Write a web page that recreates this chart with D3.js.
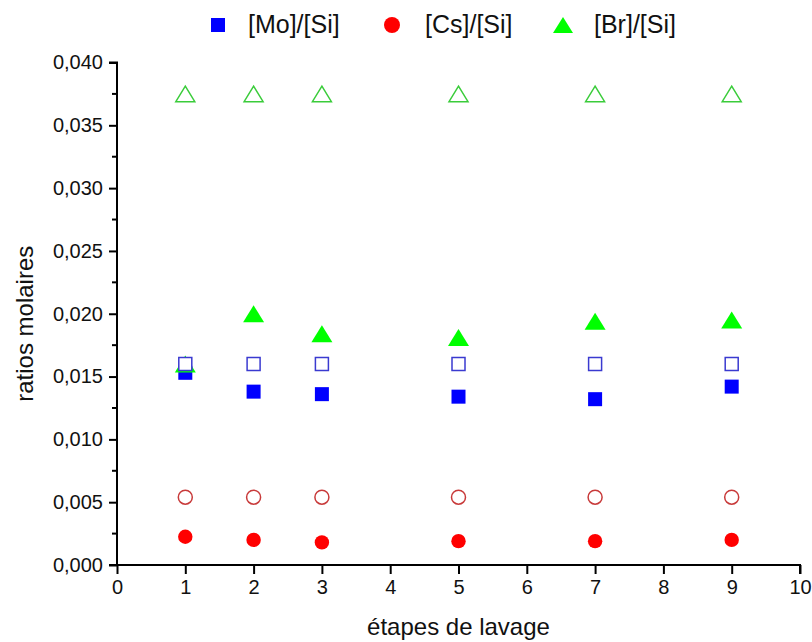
<!DOCTYPE html>
<html>
<head>
<meta charset="utf-8">
<script src="https://cdn.jsdelivr.net/npm/d3@7"></script>
<style>
  html, body { margin: 0; padding: 0; background: #fff; }
  svg { display: block; font-family: "Liberation Sans", Arial, sans-serif; }
</style>
</head>
<body>
<svg id="chart" width="812" height="642"></svg>
<script>
// ---- data ----
const steps = [1, 2, 3, 5, 7, 9];
const moSi = [0.0153, 0.0138, 0.0136, 0.0134, 0.0132, 0.0142];
const csSi = [0.00225, 0.0020, 0.0018, 0.0019, 0.0019, 0.0020];
const brSi = [0.0160, 0.0200, 0.0184, 0.0181, 0.0194, 0.0195];
const moSiInit = [0.0160, 0.0160, 0.0160, 0.0160, 0.0160, 0.0160];
const csSiInit = [0.0054, 0.0054, 0.0054, 0.0054, 0.0054, 0.0054];
const brSiInit = [0.0375, 0.0375, 0.0375, 0.0375, 0.0375, 0.0375];
const seriesNames = ["[Mo]/[Si]", "[Cs]/[Si]", "[Br]/[Si]"];
const xTicks = [0, 1, 2, 3, 4, 5, 6, 7, 8, 9, 10];
const yTicks = [0, 0.005, 0.010, 0.015, 0.020, 0.025, 0.030, 0.035, 0.040];
const yTickLabels = ["0,000", "0,005", "0,010", "0,015", "0,020", "0,025", "0,030", "0,035", "0,040"];
const yMinorTicks = [0.0025, 0.0075, 0.0125, 0.0175, 0.0225, 0.0275, 0.0325, 0.0375];
const xTitle = "étapes de lavage";
const yTitle = "ratios molaires";

// ---- layout ----
const svg = d3.select("#chart");
const x = d3.scaleLinear().domain([0, 10]).range([117, 800]);
const y = d3.scaleLinear().domain([0, 0.04]).range([565, 62.5]);

const blue = "#0000ff", red = "#ff0000", green = "#00ff00";
const blueOpen = "#3a3ad0", redOpen = "#c83a3a", greenOpen = "#3acc3a";

// axes
const yAxis = d3.axisLeft(y).tickValues(yTicks)
  .tickFormat((d, i) => yTickLabels[i]).tickSize(8).tickPadding(6);
const gy = svg.append("g").attr("transform", `translate(${x(0)},0)`).call(yAxis);
gy.selectAll("text").attr("font-size", 20).attr("fill", "#111");
gy.selectAll("line").attr("stroke", "#000").attr("stroke-width", 2);
gy.select(".domain").attr("stroke", "#000").attr("stroke-width", 2)
  .attr("d", `M0,${y(0)}V${y(0.04)}H-8`);
gy.selectAll(".minor").data(yMinorTicks).enter().append("line")
  .attr("x1", -5).attr("x2", 0)
  .attr("y1", d => y(d)).attr("y2", d => y(d))
  .attr("stroke", "#000").attr("stroke-width", 2);

const xAxis = d3.axisBottom(x).tickValues(xTicks).tickFormat(d3.format("d"))
  .tickSize(9).tickPadding(6);
const gx = svg.append("g").attr("transform", `translate(0,${y(0)})`).call(xAxis);
gx.selectAll("text").attr("font-size", 20).attr("fill", "#111");
gx.selectAll("line").attr("stroke", "#000").attr("stroke-width", 2);
gx.select(".domain").attr("stroke", "#000").attr("stroke-width", 2)
  .attr("d", `M${x(0) - 8},0H${x(10)}V9`);

// titles
svg.append("text").attr("x", x(5)).attr("y", 635)
  .attr("text-anchor", "middle").attr("font-size", 24).attr("fill", "#111")
  .text(xTitle);
svg.append("text").attr("transform", `translate(33,${(y(0) + y(0.04)) / 2 + 10}) rotate(-90)`)
  .attr("text-anchor", "middle").attr("font-size", 24).attr("fill", "#111")
  .text(yTitle);

// marker helpers
const triPath = (w, h) => `M0,${-h / 2}L${w / 2},${h / 2}L${-w / 2},${h / 2}Z`;
const zip = (vals) => steps.map((s, i) => ({ s, v: vals[i] }));
const plot = svg.append("g");

// filled squares
plot.selectAll(".mo").data(zip(moSi)).enter().append("rect")
  .attr("x", d => x(d.s) - 7).attr("y", d => y(d.v) - 7)
  .attr("width", 14).attr("height", 14).attr("fill", blue);
// filled circles
plot.selectAll(".cs").data(zip(csSi)).enter().append("circle")
  .attr("cx", d => x(d.s)).attr("cy", d => y(d.v)).attr("r", 7.2).attr("fill", red);
// filled triangles
plot.selectAll(".br").data(zip(brSi)).enter().append("path")
  .attr("transform", d => `translate(${x(d.s)},${y(d.v)})`)
  .attr("d", triPath(21, 17)).attr("fill", green);
// open squares
plot.selectAll(".moi").data(zip(moSiInit)).enter().append("rect")
  .attr("x", d => x(d.s) - 6.5).attr("y", d => y(d.v) - 6.5)
  .attr("width", 13).attr("height", 13).attr("fill", "#fff")
  .attr("stroke", blueOpen).attr("stroke-width", 1.5);
// open circles
plot.selectAll(".csi").data(zip(csSiInit)).enter().append("circle")
  .attr("cx", d => x(d.s)).attr("cy", d => y(d.v)).attr("r", 7)
  .attr("fill", "#fff").attr("stroke", redOpen).attr("stroke-width", 1.5);
// open triangles
plot.selectAll(".bri").data(zip(brSiInit)).enter().append("path")
  .attr("transform", d => `translate(${x(d.s)},${y(d.v)})`)
  .attr("d", triPath(19, 15.5)).attr("fill", "none")
  .attr("stroke", greenOpen).attr("stroke-width", 1.5);

// legend
const legend = svg.append("g");
const legX = [218, 392, 563];
const legTextX = [248, 425, 594];
const legY = 25;
legend.append("rect").attr("x", legX[0] - 7).attr("y", legY - 7)
  .attr("width", 14).attr("height", 14).attr("fill", blue);
legend.append("circle").attr("cx", legX[1]).attr("cy", legY).attr("r", 8).attr("fill", red);
legend.append("path").attr("transform", `translate(${legX[2]},${legY})`)
  .attr("d", triPath(20, 16)).attr("fill", green);
legend.selectAll(".lt").data(seriesNames).enter().append("text")
  .attr("x", (d, i) => legTextX[i]).attr("y", legY + 8)
  .attr("font-size", 25).attr("fill", "#111").text(d => d);
</script>
</body>
</html>
